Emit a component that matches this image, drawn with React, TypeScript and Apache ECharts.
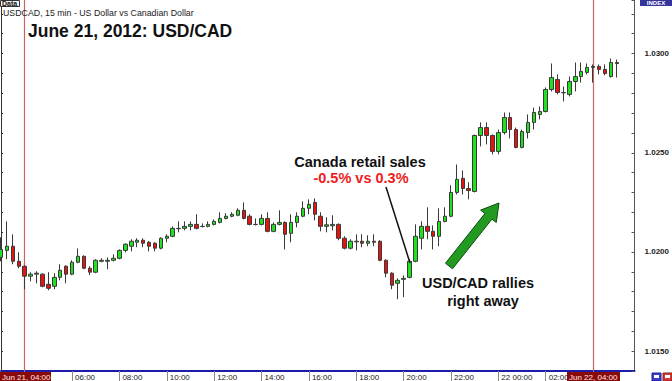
import React, { useEffect, useRef } from "react";
import * as echarts from "echarts";

// 15-minute slots starting Jun 21, 03:00 (108 slots, last 3 empty)
const START_DAY = 21;
const START_MIN = 3 * 60;
const SLOT_COUNT = 108;
const categories: string[] = [];
for (let i = 0; i < SLOT_COUNT; i++) {
  const total = START_MIN + i * 15;
  const day = START_DAY + Math.floor(total / 1440);
  const m = total % 1440;
  const hh = String(Math.floor(m / 60)).padStart(2, "0");
  const mm = String(m % 60).padStart(2, "0");
  categories.push(`06-${day} ${hh}:${mm}`);
}

// [open, close, low, high]
const candles: number[][] = [
  [1.01973, 1.02013, 1.01953, 1.02074],
  [1.02008, 1.02029, 1.01963, 1.02154],
  [1.02029, 1.01953, 1.01938, 1.02089],
  [1.01953, 1.01928, 1.01918, 1.01998],
  [1.01928, 1.01878, 1.01812, 1.01933],
  [1.01878, 1.01888, 1.01852, 1.01898],
  [1.01888, 1.01893, 1.01842, 1.01903],
  [1.01888, 1.01827, 1.01822, 1.01893],
  [1.01837, 1.01817, 1.01807, 1.01898],
  [1.01827, 1.01872, 1.01812, 1.01893],
  [1.01872, 1.01908, 1.01857, 1.01938],
  [1.01928, 1.01888, 1.01842, 1.01933],
  [1.01888, 1.01948, 1.01883, 1.01958],
  [1.01948, 1.01978, 1.01943, 1.02018],
  [1.01978, 1.01918, 1.01913, 1.01983],
  [1.01918, 1.01898, 1.01883, 1.01928],
  [1.01898, 1.01958, 1.01893, 1.01963],
  [1.01953, 1.01958, 1.01948, 1.01968],
  [1.01953, 1.01958, 1.01913, 1.01973],
  [1.01958, 1.01968, 1.01953, 1.01988],
  [1.01968, 1.02008, 1.01963, 1.02013],
  [1.02008, 1.02039, 1.01998, 1.02044],
  [1.02029, 1.02054, 1.02003, 1.02064],
  [1.02049, 1.02059, 1.02024, 1.02069],
  [1.02059, 1.02044, 1.02024, 1.02069],
  [1.02049, 1.02029, 1.02003, 1.02054],
  [1.02044, 1.02019, 1.02003, 1.02049],
  [1.02019, 1.02069, 1.02013, 1.02074],
  [1.02069, 1.02079, 1.02049, 1.02089],
  [1.02079, 1.02119, 1.02074, 1.02129],
  [1.02117, 1.02119, 1.02099, 1.02154],
  [1.02119, 1.02129, 1.02109, 1.02154],
  [1.02129, 1.02139, 1.02109, 1.02154],
  [1.02139, 1.02119, 1.02114, 1.0219],
  [1.02128, 1.02129, 1.02124, 1.02144],
  [1.02129, 1.02139, 1.02124, 1.02154],
  [1.02139, 1.02154, 1.02134, 1.02164],
  [1.02149, 1.02169, 1.02144, 1.022],
  [1.02169, 1.0218, 1.02164, 1.02195],
  [1.0218, 1.0219, 1.02175, 1.022],
  [1.02185, 1.0221, 1.0218, 1.0222],
  [1.0221, 1.02169, 1.02164, 1.0225],
  [1.0218, 1.02139, 1.02134, 1.0219],
  [1.02138, 1.02139, 1.02134, 1.02169],
  [1.02139, 1.02169, 1.02134, 1.0219],
  [1.02169, 1.02104, 1.02099, 1.022],
  [1.02104, 1.02139, 1.02099, 1.02149],
  [1.02139, 1.02149, 1.02134, 1.0221],
  [1.02149, 1.02089, 1.02013, 1.02154],
  [1.02094, 1.02149, 1.02049, 1.0219],
  [1.02149, 1.0218, 1.02124, 1.022],
  [1.0218, 1.0222, 1.02175, 1.02255],
  [1.0222, 1.0224, 1.0219, 1.02265],
  [1.0225, 1.0219, 1.02159, 1.0227],
  [1.0218, 1.02129, 1.02104, 1.022],
  [1.02129, 1.02137, 1.02099, 1.02175],
  [1.02132, 1.02139, 1.02109, 1.02185],
  [1.02139, 1.02069, 1.02059, 1.02144],
  [1.02069, 1.02019, 1.02013, 1.02079],
  [1.02019, 1.02054, 1.02013, 1.02064],
  [1.02051, 1.02054, 1.02008, 1.02089],
  [1.02054, 1.02044, 1.02024, 1.02089],
  [1.02044, 1.02054, 1.02029, 1.02084],
  [1.02054, 1.02049, 1.02029, 1.02089],
  [1.02054, 1.01958, 1.01953, 1.02059],
  [1.01958, 1.01893, 1.01872, 1.01963],
  [1.01893, 1.01832, 1.01812, 1.01898],
  [1.01842, 1.01857, 1.01762, 1.01867],
  [1.01862, 1.01867, 1.01772, 1.01882],
  [1.01872, 1.01953, 1.01867, 1.01963],
  [1.01953, 1.02079, 1.01948, 1.02139],
  [1.02069, 1.02129, 1.02013, 1.02154],
  [1.02129, 1.02104, 1.02064, 1.02225],
  [1.02104, 1.02079, 1.02013, 1.02134],
  [1.02079, 1.02154, 1.02029, 1.0222],
  [1.02154, 1.0218, 1.02149, 1.02225],
  [1.0218, 1.023, 1.02175, 1.02336],
  [1.023, 1.02366, 1.0229, 1.02441],
  [1.02371, 1.0232, 1.0229, 1.02411],
  [1.0232, 1.0231, 1.02265, 1.02351],
  [1.02305, 1.02587, 1.023, 1.02592],
  [1.02587, 1.02627, 1.02532, 1.02653],
  [1.02627, 1.02587, 1.02542, 1.02653],
  [1.02587, 1.02507, 1.02492, 1.02592],
  [1.02507, 1.02602, 1.02492, 1.02617],
  [1.02602, 1.02678, 1.02592, 1.02703],
  [1.02678, 1.02617, 1.02572, 1.02703],
  [1.02617, 1.02527, 1.02522, 1.02627],
  [1.02527, 1.02607, 1.02522, 1.02617],
  [1.02602, 1.02653, 1.02572, 1.02693],
  [1.02653, 1.02703, 1.02617, 1.02728],
  [1.02693, 1.02708, 1.02668, 1.02733],
  [1.02708, 1.02819, 1.02703, 1.02829],
  [1.02819, 1.02879, 1.02809, 1.0295],
  [1.02869, 1.02804, 1.02794, 1.02895],
  [1.02802, 1.02804, 1.02759, 1.02834],
  [1.02794, 1.02859, 1.02784, 1.02884],
  [1.02859, 1.02884, 1.02809, 1.02955],
  [1.02884, 1.0291, 1.02854, 1.02955],
  [1.02905, 1.0293, 1.02895, 1.0295],
  [1.0293, 1.02935, 1.02854, 1.02945],
  [1.02935, 1.0292, 1.02895, 1.02945],
  [1.0292, 1.029, 1.0289, 1.02945],
  [1.02884, 1.02955, 1.02879, 1.02975],
  [1.02955, 1.0295, 1.02879, 1.0297],
];

const Y_MIN = 1.014;
const Y_MAX = 1.0327;
const Y_STEP = 0.001;
const EVENT_SLOTS = [4, 100];
const EVENT_LABELS = ["Jun 21, 04:00", "Jun 22, 04:00"];
const LABEL_FIRST = 4;
const LABEL_EVERY = 8;

const FONT = "'Liberation Sans', Arial, sans-serif";

const isTickSlot = (i: number) => i >= LABEL_FIRST && (i - LABEL_FIRST) % LABEL_EVERY === 0;
const isLabelSlot = (i: number) => isTickSlot(i) && EVENT_SLOTS.indexOf(i) < 0;

function txt(x: number, y: number, text: string, size: number, opts: any = {}) {
  const align = opts.align || "left";
  return {
    type: "text",
    x,
    y,
    z: 100,
    silent: true,
    style: {
      text,
      fill: opts.fill || "#111",
      fontSize: size,
      fontWeight: opts.weight || "normal",
      fontFamily: FONT,
      align,
      textAlign: align,
      verticalAlign: "middle",
      textVerticalAlign: "middle",
    },
  };
}

export default function App() {
  const ref = useRef<HTMLDivElement>(null);

  useEffect(() => {
    if (!ref.current) return;
    const chart = echarts.init(ref.current, undefined, { renderer: "svg" });

    // arrow geometry (annotation)
    const tail = [449, 266];
    const tip = [499, 203];
    const dx = tip[0] - tail[0];
    const dy = tip[1] - tail[1];
    const len = Math.sqrt(dx * dx + dy * dy);
    const ux = dx / len, uy = dy / len;
    const nx = -uy, ny = ux;
    const headLen = 17, headW = 10, shaftW = 4.5;
    const bx = tip[0] - headLen * ux, by = tip[1] - headLen * uy;
    const arrowPts = [
      [tail[0] + shaftW * nx, tail[1] + shaftW * ny],
      [bx + shaftW * nx, by + shaftW * ny],
      [bx + headW * nx, by + headW * ny],
      [tip[0], tip[1]],
      [bx - headW * nx, by - headW * ny],
      [bx - shaftW * nx, by - shaftW * ny],
      [tail[0] - shaftW * nx, tail[1] - shaftW * ny],
    ];

    const option: any = {
      animation: false,
      backgroundColor: "#ffffff",
      textStyle: { fontFamily: FONT },
      grid: { left: 1, right: 35, top: 0, bottom: 10, containLabel: false },
      xAxis: {
        type: "category",
        data: categories,
        boundaryGap: false,
        axisLine: { show: true, lineStyle: { color: "#1c1ca8", width: 2 } },
        axisTick: {
          show: true,
          inside: false,
          length: 10,
          interval: (i: number) => isTickSlot(i),
          lineStyle: { color: "#8a8a8a", width: 1 },
        },
        axisLabel: {
          interval: (i: number) => isLabelSlot(i),
          formatter: (v: string) => {
            const [d, t] = v.split(" ");
            return t === "00:00" ? `${d.split("-")[1]} ${t}` : t;
          },
          align: "left",
          padding: [0, 0, 0, 3],
          margin: 2,
          fontSize: 8,
          color: "#222",
          fontFamily: FONT,
        },
        splitLine: { show: false },
      },
      yAxis: [
        {
          type: "value",
          position: "right",
          min: Y_MIN,
          max: Y_MAX,
          interval: Y_STEP,
          axisLine: { show: true, lineStyle: { color: "#555", width: 1 } },
          axisTick: { show: true, inside: true, length: 3, lineStyle: { color: "#555" } },
          axisLabel: {
            formatter: (v: number) =>
              Math.round(v * 10000) % 50 === 0 ? v.toFixed(4) : "",
            margin: 10,
            fontSize: 8,
            fontWeight: "bold",
            color: "#222",
            fontFamily: FONT,
          },
          splitLine: { show: false },
        },
        {
          type: "value",
          position: "left",
          min: Y_MIN,
          max: Y_MAX,
          interval: Y_STEP,
          axisLine: { show: true, lineStyle: { color: "#333", width: 1 } },
          axisTick: { show: true, inside: true, length: 2, lineStyle: { color: "#333" } },
          axisLabel: { show: false },
          splitLine: { show: false },
        },
      ],
      series: [
        {
          type: "candlestick",
          yAxisIndex: 0,
          data: candles,
          barWidth: 4,
          itemStyle: {
            color: "#1fe21f",
            color0: "#e5140e",
            borderColor: "#3a3a3a",
            borderColor0: "#3a3a3a",
            borderWidth: 1,
          },
          markLine: {
            silent: true,
            symbol: "none",
            label: { show: false },
            lineStyle: { color: "#c86464", width: 1.2, type: "solid" },
            data: EVENT_SLOTS.map((s) => ({ xAxis: s })),
            z: 1,
          },
        },
      ],
      graphic: [
        // Data tag
        {
          type: "rect",
          z: 100,
          shape: { x: 0.5, y: 0.5, width: 19, height: 6 },
          style: { fill: "#f2f2f2", stroke: "#333", lineWidth: 1 },
        },
        txt(2, 3, "Data", 7, { weight: "bold" }),
        // subtitle & title
        txt(3, 13, "USDCAD, 15 min - US Dollar vs Canadian Dollar", 8.8, { fill: "#222" }),
        txt(28, 31, "June 21, 2012: USD/CAD", 17.5, { weight: "bold" }),
        // annotation: retail sales
        txt(360, 162, "Canada retail sales", 14.5, { weight: "bold", align: "center" }),
        txt(361, 178, "-0.5% vs 0.3%", 14.5, { weight: "bold", align: "center", fill: "#ee1c1c" }),
        {
          type: "line",
          z: 100,
          shape: { x1: 386, y1: 187, x2: 410, y2: 263 },
          style: { stroke: "#111", lineWidth: 1.5 },
        },
        // annotation: rally
        txt(478, 283, "USD/CAD rallies", 14.5, { weight: "bold", align: "center" }),
        txt(483, 301, "right away", 14.5, { weight: "bold", align: "center" }),
        {
          type: "polygon",
          z: 100,
          shape: { points: arrowPts },
          style: { fill: "#229a22", stroke: "#0b4d0b", lineWidth: 1 },
        },
        // INDEX badge
        {
          type: "rect",
          z: 100,
          shape: { x: 640, y: 0, width: 32, height: 6 },
          style: { fill: "#34349c" },
        },
        txt(656, 2.5, "INDEX", 6, { weight: "bold", align: "center", fill: "#ffffff" }),
        // date boxes
        {
          type: "rect",
          z: 100,
          shape: { x: 0, y: 372, width: 51, height: 9 },
          style: { fill: "#8a0a0a" },
        },
        txt(2, 377, EVENT_LABELS[0], 8, { fill: "#ffe8e8" }),
        {
          type: "rect",
          z: 100,
          shape: { x: 567, y: 372, width: 53, height: 9 },
          style: { fill: "#8a0a0a" },
        },
        txt(569, 377, EVENT_LABELS[1], 8, { fill: "#ffe8e8" }),
        // corner icons
        {
          type: "rect",
          z: 100,
          shape: { x: 652, y: 373, width: 9, height: 8 },
          style: { fill: "#3b3bd6", stroke: "#20208a", lineWidth: 1 },
        },
        {
          type: "rect",
          z: 101,
          shape: { x: 654, y: 375, width: 5, height: 3 },
          style: { fill: "#ffffff" },
        },
        {
          type: "rect",
          z: 100,
          shape: { x: 663, y: 373, width: 9, height: 8 },
          style: { fill: "#d43b3b", stroke: "#8a2020", lineWidth: 1 },
        },
        {
          type: "rect",
          z: 101,
          shape: { x: 665, y: 375, width: 5, height: 3 },
          style: { fill: "#ffffff" },
        },
      ],
    };

    chart.setOption(option);
    return () => chart.dispose();
  }, []);

  return (
    <div
      ref={ref}
      style={{ position: "fixed", left: 0, top: 0, width: 672, height: 381, background: "#fff" }}
    />
  );
}
